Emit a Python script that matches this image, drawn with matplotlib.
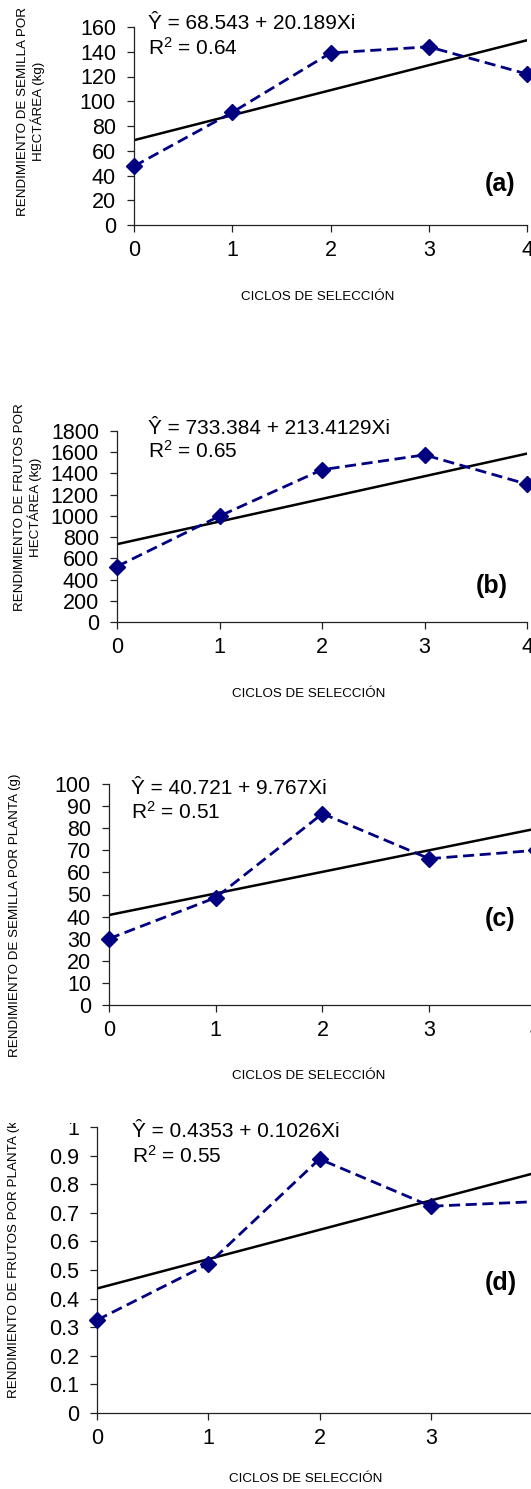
import numpy as np
import matplotlib
matplotlib.use("Agg")
import matplotlib.pyplot as plt
from matplotlib.patches import Rectangle

# datos (ciclos de seleccion 0..4)
ciclos = [0, 1, 2, 3, 4]
semilla_ha = [47.5, 91, 139, 144, 122]
frutos_ha = [523, 998, 1435, 1575, 1299]
semilla_planta = [30, 48.6, 86.6, 66.2, 70]
frutos_planta = [0.325, 0.521, 0.888, 0.723, 0.74]

# ecuaciones de regresion  Y = a + b*Xi
reg_a = ["68.543", "733.384", "40.721", "0.4353"]
reg_b = ["20.189", "213.4129", "9.767", "0.1026"]
r2 = ["0.64", "0.65", "0.51", "0.55"]
letras = ["(a)", "(b)", "(c)", "(d)"]

yticks_a = [0, 20, 40, 60, 80, 100, 120, 140, 160]
yticks_b = [0, 200, 400, 600, 800, 1000, 1200, 1400, 1600, 1800]
yticks_c = [0, 10, 20, 30, 40, 50, 60, 70, 80, 90, 100]
yticks_d = [0, 0.1, 0.2, 0.3, 0.4, 0.5, 0.6, 0.7, 0.8, 0.9, 1]

ylabels = ["RENDIMIENTO DE SEMILLA POR\nHECTÁREA (kg)",
           "RENDIMIENTO DE FRUTOS POR\nHECTÁREA (kg)",
           "RENDIMIENTO DE SEMILLA POR PLANTA (g)",
           "RENDIMIENTO DE FRUTOS POR PLANTA (kg)"]
xlabel = "CICLOS DE SELECCIÓN"

plt.rcParams['font.family'] = ['Liberation Sans', 'DejaVu Sans']
plt.rcParams['mathtext.fontset'] = 'custom'
plt.rcParams['mathtext.rm'] = 'Liberation Sans'
plt.rcParams['mathtext.it'] = 'Liberation Sans:italic'

W, H = 531, 1489
fig = plt.figure(figsize=(W / 100, H / 100), dpi=100)


def px(x, y):
    return x / W, 1 - y / H


def caja(x0, x4, y0, ytop):
    return [x0 / W, 1 - y0 / H, (x4 - x0) / W, (y0 - ytop) / H]


def panel(pos, y, a, b, yt):
    ax = fig.add_axes(pos)
    x = np.array(ciclos)
    ax.plot(x, float(a) + float(b) * x, color="black", lw=1.8, zorder=2)
    ax.plot(x, y, color="#000080", lw=2.0, ls=(0, (4, 2)), marker="D", ms=8,
            zorder=3, clip_on=False)
    ax.set_xlim(0, 4)
    ax.set_ylim(0, yt[-1])
    ax.set_xticks(ciclos)
    ax.set_yticks(yt)
    ax.set_yticklabels(["%g" % v for v in yt])
    for s in ["top", "right"]:
        ax.spines[s].set_visible(False)
    for s in ["left", "bottom"]:
        ax.spines[s].set_linewidth(0.9)
        ax.spines[s].set_color("#222222")
    ax.tick_params(direction="out", length=5, width=0.9, labelsize=15.5, colors="#222222")
    ax.tick_params(axis="both", labelcolor="black")
    ax.tick_params(axis="y", pad=8)
    ax.tick_params(axis="x", pad=6)
    return ax


panel(caja(134, 527, 225, 27), semilla_ha, reg_a[0], reg_b[0], yticks_a)
panel(caja(117, 527, 622, 431), frutos_ha, reg_a[1], reg_b[1], yticks_b)
panel(caja(109, 536, 1005, 784), semilla_planta, reg_a[2], reg_b[2], yticks_c)
panel(caja(97, 542, 1413, 1127), frutos_planta, reg_a[3], reg_b[3], yticks_d)

# ecuaciones
eq_pos = [(148, 29, 55), (148, 434, 458), (131, 794, 819), (132, 1137, 1163)]
for i, (x, y1, y2) in enumerate(eq_pos):
    fig.text(*px(x, y1), "Ŷ = %s + %sXi" % (reg_a[i], reg_b[i]), fontsize=15, va="baseline")
    fig.text(*px(x, y2), "R$^2$ = %s" % r2[i], fontsize=15, va="baseline")

# letras de cada panel
let_pos = [(500, 184), (492, 586), (500, 919), (501, 1283)]
for i, (x, y) in enumerate(let_pos):
    fig.text(*px(x, y), letras[i], fontsize=18, fontweight="bold", ha="center", va="center")

# titulos de ejes
xl_pos = [(318, 297), (309, 694), (309, 1076), (306, 1479)]
for x, y in xl_pos:
    fig.text(*px(x, y), xlabel, fontsize=9.6, ha="center", va="center")

fig.text(*px(31, 111), ylabels[0], fontsize=9.6, rotation=90,
         ha="center", va="center", multialignment="center", linespacing=1.15)
fig.text(*px(28, 507), ylabels[1], fontsize=9.6, rotation=90,
         ha="center", va="center", multialignment="center", linespacing=1.15)
fig.text(*px(15, 915), ylabels[2], fontsize=9.6, rotation=90,
         ha="center", va="center")
fig.text(*px(14, 1398), ylabels[3], fontsize=9.6, rotation=90,
         ha="center", va="bottom")

# recorte superior del panel (d) como en la imagen original
fig.add_artist(Rectangle(px(0, 1123), 125 / W, 40 / H, transform=fig.transFigure,
                         facecolor="white", edgecolor="none", zorder=10))

fig.savefig("out.png", dpi=100)
